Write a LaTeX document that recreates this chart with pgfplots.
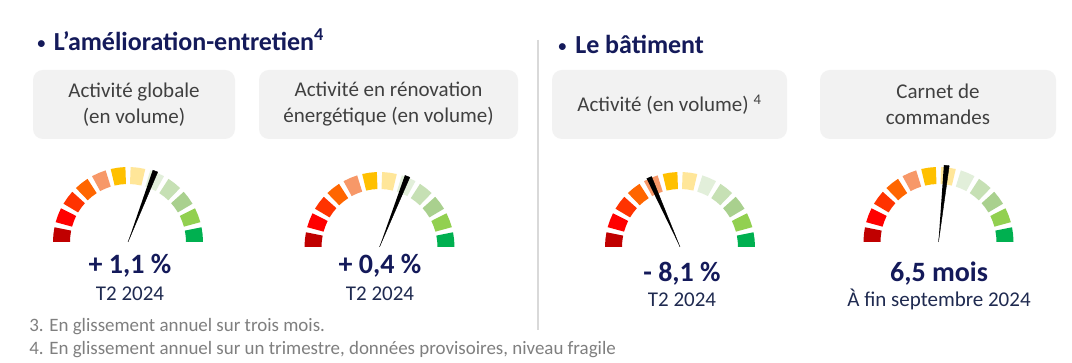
\documentclass[border=0pt]{standalone}
\usepackage{pgfplots}
\pgfplotsset{compat=1.18}
\usepackage{fontspec}
\setmainfont{Carlito}
\definecolor{navy}{HTML}{141A5A}
\definecolor{subnavy}{HTML}{1F2A50}
\definecolor{boxtext}{HTML}{404040}
\definecolor{foot}{HTML}{7F7F7F}
\definecolor{boxgray}{HTML}{F2F2F2}
\definecolor{divgray}{HTML}{D9D9D9}
\definecolor{s1}{HTML}{C00000}
\definecolor{s2}{HTML}{FF0000}
\definecolor{s3}{HTML}{FF3300}
\definecolor{s4}{HTML}{FF6600}
\definecolor{s5}{HTML}{F79868}
\definecolor{s6}{HTML}{FFC000}
\definecolor{s7}{HTML}{FFE699}
\definecolor{s8}{HTML}{E2EFDA}
\definecolor{s9}{HTML}{C6E0B4}
\definecolor{s10}{HTML}{A9D08E}
\definecolor{s11}{HTML}{92D050}
\definecolor{s12}{HTML}{00B050}
% one gauge segment: colour, start angle, end angle, middle angle (polar, radius 58 to 75 px)
\newcommand{\seg}[4]{\addplot[fill=#1, draw=none, data cs=polar] coordinates {(#2,58) (#2,75) (#4,75) (#3,75) (#3,58) (#4,58)};}
\newcommand{\gaugesegs}{%
\seg{s1}{180}{168.667}{174.33}
\seg{s2}{164.667}{153.333}{159}
\seg{s3}{149.333}{138}{143.67}
\seg{s4}{134}{122.667}{128.33}
\seg{s5}{118.667}{107.333}{113}
\seg{s6}{103.333}{92}{97.67}
\seg{s7}{88}{76.667}{82.33}
\seg{s8}{72.667}{61.333}{67}
\seg{s9}{57.333}{46}{51.67}
\seg{s10}{42}{30.667}{36.33}
\seg{s11}{26.667}{15.333}{21}
\seg{s12}{11.333}{0}{5.67}}
\pgfplotsset{gauge/.style={anchor=south west, x=0.75pt, y=0.75pt,
  xmin=-80, xmax=80, ymin=-5, ymax=80, hide axis, clip=false}}
\begin{document}
\begin{tikzpicture}[x=0.75pt,y=0.75pt]
\path[use as bounding box] (0,0) rectangle (1072,363);
\fill[white] (0,0) rectangle (1072,363);
% titles
\node[anchor=base, inner sep=0, text=navy, font=\fontsize{14.5}{14}\selectfont] at (41.5,313) {•};
\node[anchor=base west, inner sep=0, text=navy, font=\fontsize{19.5}{23}\selectfont\bfseries] at (53.5,312) {L’amélioration-entretien\textsuperscript{4}};
\node[anchor=base, inner sep=0, text=navy, font=\fontsize{14.5}{14}\selectfont] at (562.5,310) {•};
\node[anchor=base west, inner sep=0, text=navy, font=\fontsize{19.5}{23}\selectfont\bfseries] at (575,309) {Le bâtiment};
% divider
\draw[divgray, line width=0.9pt] (538,323) -- (538,33);
% boxes
\fill[boxgray, rounded corners=7.5pt] (33,293) rectangle (235,224);
\fill[boxgray, rounded corners=7.5pt] (259,293) rectangle (518,224);
\fill[boxgray, rounded corners=7.5pt] (552,293) rectangle (787,224);
\fill[boxgray, rounded corners=7.5pt] (820,293) rectangle (1056,224);
\begin{scope}[every node/.style={align=center, inner sep=0, text=boxtext, font=\fontsize{15.75}{19.5}\selectfont}]
\node at (134,258.5) {Activité globale\\(en volume)};
\node at (388.5,258.5) {Activité en rénovation\\énergétique (en volume)};
\node at (669.5,258.5) {Activité (en volume) \textsuperscript{4}};
\node at (938,258.5) {Carnet de\\commandes};
\end{scope}
% gauges
\begin{axis}[gauge, at={(36pt,87pt)}]
\gaugesegs
\addplot[fill=black, draw=black, line width=0.3pt, data cs=polar] coordinates {(71,76) (67,76) (0,0)};
\end{axis}
\begin{axis}[gauge, at={(224.625pt,83.25pt)}]
\gaugesegs
\addplot[fill=black, draw=black, line width=0.3pt, data cs=polar] coordinates {(70.5,76) (66.5,76) (0,0)};
\end{axis}
\begin{axis}[gauge, at={(450pt,83.25pt)}]
\gaugesegs
\addplot[fill=black, draw=black, line width=0.3pt, data cs=polar] coordinates {(116,76) (112,76) (0,0)};
\end{axis}
\begin{axis}[gauge, at={(643.875pt,87pt)}]
\gaugesegs
\addplot[fill=black, draw=black, line width=0.3pt, data cs=polar] coordinates {(86,77) (82,77) (0,0)};
\end{axis}
% values
\begin{scope}[every node/.style={anchor=base, inner sep=0}]
\node[text=navy, font=\fontsize{21}{25}\selectfont\bfseries] at (130,89) {+ 1,1 \%};
\node[text=subnavy, font=\fontsize{15.75}{19}\selectfont] at (130,62) {T2 2024};
\node[text=navy, font=\fontsize{21}{25}\selectfont\bfseries] at (380,89) {+ 0,4 \%};
\node[text=subnavy, font=\fontsize{15.75}{19}\selectfont] at (380,62) {T2 2024};
\node[text=navy, font=\fontsize{21}{25}\selectfont\bfseries] at (682,81) {- 8,1 \%};
\node[text=subnavy, font=\fontsize{15.75}{19}\selectfont] at (682,56) {T2 2024};
\node[text=navy, font=\fontsize{21}{25}\selectfont\bfseries] at (939,81) {6,5 mois};
\node[text=subnavy, font=\fontsize{15.75}{19}\selectfont] at (939,56) {À fin septembre 2024};
\end{scope}
% footnotes
\begin{scope}[every node/.style={anchor=base west, inner sep=0, text=foot, font=\fontsize{14.2}{17}\selectfont}]
\node at (29,31) {3. En glissement annuel sur trois mois.};
\node at (29,8) {4. En glissement annuel sur un trimestre, données provisoires, niveau fragile};
\end{scope}
\end{tikzpicture}
\end{document}
